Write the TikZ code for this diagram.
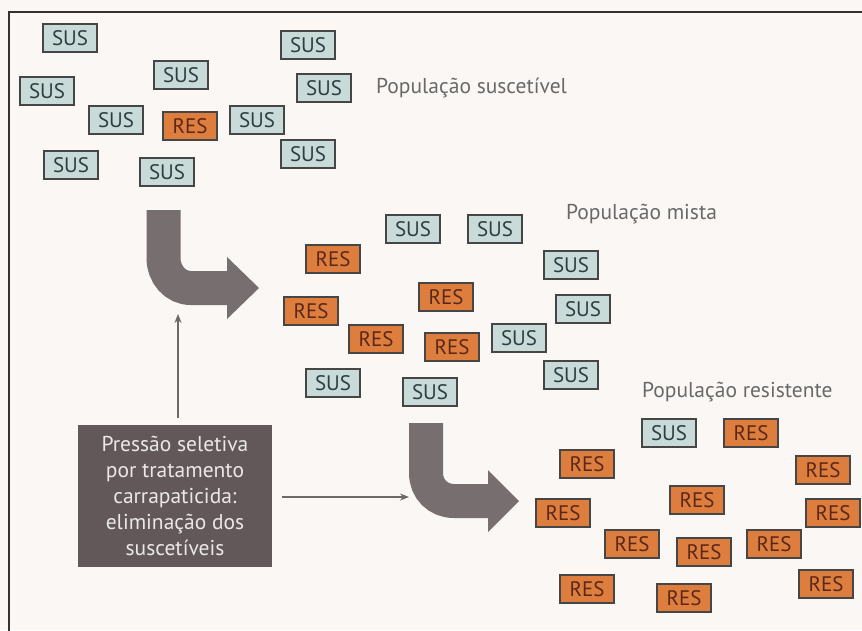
\documentclass[tikz,border=0pt]{standalone}
\usepackage{fontspec}
\setmainfont{PT Sans}
\usetikzlibrary{arrows.meta}
\definecolor{bgc}{RGB}{250,247,244}
\definecolor{framec}{RGB}{50,50,50}
\definecolor{susfill}{RGB}{200,219,217}
\definecolor{sustext}{RGB}{45,62,66}
\definecolor{resfill}{RGB}{222,126,62}
\definecolor{restext}{RGB}{90,40,25}
\definecolor{boxline}{RGB}{70,70,70}
\definecolor{bigc}{RGB}{118,110,111}
\definecolor{pressc}{RGB}{98,88,90}
\definecolor{presstext}{RGB}{236,232,232}
\definecolor{labc}{RGB}{105,105,105}
\definecolor{thinc}{RGB}{110,104,104}
\tikzset{
  cell/.style={draw=boxline, line width=1.3pt, minimum width=54pt, minimum height=28pt, inner sep=0pt, font=\fontsize{21}{22}\selectfont},
  sus/.style={cell, fill=susfill, text=sustext},
  res/.style={cell, fill=resfill, text=restext},
  poplabel/.style={anchor=west, text=labc, font=\fontsize{21.5}{22}\selectfont, inner sep=0pt},
  bigarrow/.style={draw=bigc, line width=34pt, line cap=butt},
  bighead/.style={fill=bigc},
  thinarr/.style={draw=thinc, line width=2pt, -{Stealth[length=9pt,width=7pt]}},
  pressbox/.style={fill=pressc, minimum width=194pt, minimum height=142pt, text=presstext, align=center, font=\fontsize{21.5}{26}\selectfont, inner sep=0pt}
}
\begin{document}
\begin{tikzpicture}[x=1pt,y=-1pt]
\useasboundingbox (0,0) rectangle (862,630);
\fill[bgc] (0,0) rectangle (862,630);
\draw[framec, line width=2pt] (9,631) -- (9,12) -- (863,12);

% susceptible population
\node[sus] (a1) at (70,38) {SUS};
\node[sus] (a2) at (181,75) {SUS};
\node[sus] (a3) at (47,91) {SUS};
\node[sus] (a4) at (308,45) {SUS};
\node[sus] (a5) at (324,88) {SUS};
\node[sus] (a6) at (116,120) {SUS};
\node[res] (a7) at (190,126) {RES};
\node[sus] (a8) at (257,120) {SUS};
\node[sus] (a9) at (71,165) {SUS};
\node[sus] (a10) at (167,172) {SUS};
\node[sus] (a11) at (308,154) {SUS};
\node[poplabel] (l1) at (376,88) {População suscetível};

% mixed population
\node[sus] (b1) at (413,229) {SUS};
\node[sus] (b2) at (495,229) {SUS};
\node[res] (b3) at (333,259) {RES};
\node[sus] (b4) at (571,265) {SUS};
\node[res] (b5) at (311,311) {RES};
\node[res] (b6) at (446,297) {RES};
\node[sus] (b7) at (583,309) {SUS};
\node[res] (b8) at (376,339) {RES};
\node[res] (b9) at (452,347) {RES};
\node[sus] (b10) at (519,338) {SUS};
\node[sus] (b11) at (571,375) {SUS};
\node[sus] (b12) at (333,383) {SUS};
\node[sus] (b13) at (430,392) {SUS};
\node[poplabel] (l2) at (566,214) {População mista};

% resistant population
\node[sus] (c1) at (669,433) {SUS};
\node[res] (c2) at (751,433) {RES};
\node[res] (c3) at (587,464) {RES};
\node[res] (c4) at (823,470) {RES};
\node[res] (c5) at (697,500) {RES};
\node[res] (c6) at (563,513) {RES};
\node[res] (c7) at (833,513) {RES};
\node[res] (c8) at (632,544) {RES};
\node[res] (c9) at (704,552) {RES};
\node[res] (c10) at (774,544) {RES};
\node[res] (c11) at (587,589) {RES};
\node[res] (c12) at (684,598) {RES};
\node[res] (c13) at (826,584) {RES};
\node[poplabel] (l3) at (642,392) {População resistente};

% big curved arrows
\draw[bigarrow] (163.5,210) -- (163.5,258) .. controls (163.5,274) and (175,288) .. (191,288) -- (228,288);
\fill[bighead] (227,257) -- (259,288) -- (227,319) -- cycle;
\draw[bigarrow] (426,423) -- (426,473) .. controls (426,489) and (438,501) .. (454,501) -- (489,501);
\fill[bighead] (488,470) -- (519,501) -- (488,532) -- cycle;

% selection pressure box
\node[pressbox] (press) at (175,496) {Pressão seletiva\\por tratamento\\carrapaticida:\\eliminação dos\\suscetíveis};
\coordinate (t1) at (178,314);
\coordinate (t2) at (409,497);
\draw[thinarr, shorten <=7pt] (press.north -| t1) -- (t1);
\draw[thinarr, shorten <=10pt] (press.east |- t2) -- (t2);
\end{tikzpicture}
\end{document}
